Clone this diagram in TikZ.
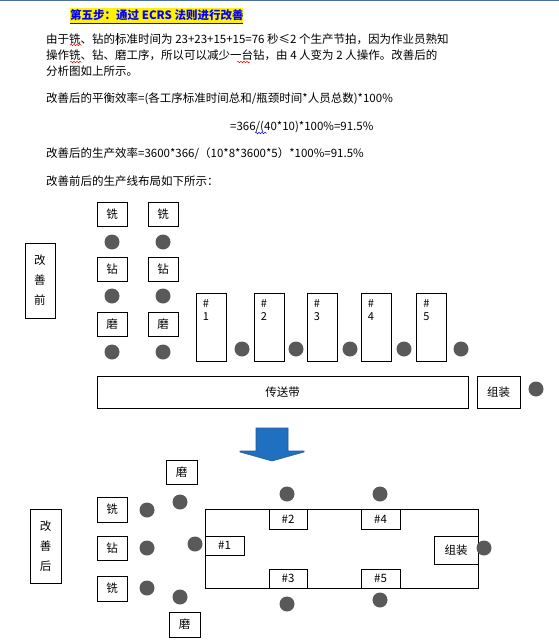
\documentclass[tikz,border=0pt]{standalone}
\usepackage{fontspec}
\setmainfont{Noto Sans CJK SC}
\usetikzlibrary{decorations.pathmorphing}
\definecolor{dotgray}{HTML}{595959}
\definecolor{arrowblue}{HTML}{1F70C1}
\definecolor{arrowedge}{HTML}{2A5C96}
\definecolor{topline}{HTML}{4A6FA5}
\tikzset{
  body/.style={anchor=west, inner sep=0pt, font=\fontsize{11.5}{14}\selectfont},
  bx/.style={draw, line width=0.8pt, inner sep=0pt, font=\fontsize{11.5}{14}\selectfont},
  vbox/.style={bx, align=center, font=\fontsize{11.5}{20}\selectfont},
  dot/.style={circle, fill=dotgray, inner sep=0pt, minimum size=15pt},
  wavy/.style={decorate, decoration={snake, amplitude=0.7pt, segment length=3pt}, line width=0.5pt},
  numlbl/.style={anchor=north west, align=left, inner sep=0pt, font=\fontsize{11}{13}\selectfont}
}
\begin{document}
\begin{tikzpicture}[x=1pt, y=-1pt]
\useasboundingbox (0,0) rectangle (559,643);
\draw[topline, line width=1pt] (0,0.5) -- (559,0.5);
% title
\fill[yellow] (70,8) rectangle (243,23.5);
\node[anchor=west, inner sep=0pt, text=blue, font=\fontsize{11.5}{14}\selectfont\bfseries] (title) at (70,15.5) {第五步：通过 ECRS 法则进行改善};
\draw[blue, line width=0.6pt] (70,23) -- (243,23);
% body
\node[body] (l1) at (46,39) {由于铣、钻的标准时间为 23+23+15+15=76 秒≤2 个生产节拍，因为作业员熟知};
\node[body] (l2) at (46,55) {操作铣、钻、磨工序，所以可以减少一台钻，由 4 人变为 2 人操作。改善后的};
\node[body] (l3) at (46,71) {分析图如上所示。};
\node[body] (f1) at (46,99) {改善后的平衡效率=(各工序标准时间总和/瓶颈时间*人员总数)*100\%};
\node[body] (f2) at (230,127) {=366/(40*10)*100\%=91.5\%};
\node[body] (f3) at (46,153.5) {改善后的生产效率=3600*366/（10*8*3600*5）*100\%=91.5\%};
\node[body] (f4) at (46,181.5) {改善前后的生产线布局如下所示：};
\draw[red, wavy] (70,45) -- (82,45);
\draw[red, wavy] (70,62) -- (82,62);
\draw[red, wavy] (237,62) -- (250,62);
\draw[blue, wavy] (255,133) -- (267,133);
\draw[line width=0.4pt] (117,33) -- (117,45);
% before
\node[vbox, minimum width=30pt, minimum height=75pt] (bq) at (40,280.5) {改\\善\\前};
\foreach \c/\x in {a/112, b/163}{
  \node[bx, minimum width=30pt, minimum height=24pt] (x\c) at (\x,214) {铣};
  \node[dot] (dx\c) at (\x,242) {};
  \node[bx, minimum width=30pt, minimum height=24pt] (z\c) at (\x,269) {钻};
  \node[dot] (dz\c) at (\x,296) {};
  \node[bx, minimum width=30pt, minimum height=24pt] (m\c) at (\x,324) {磨};
  \node[dot] (dm\c) at (\x,352) {};
}
\foreach \i/\x/\d in {1/211/242, 2/269/296, 3/322/350, 4/376/404, 5/431.5/461}{
  \node[bx, minimum width=30pt, minimum height=68pt] (s\i) at (\x,327) {};
  \node[numlbl] (sl\i) at ([xshift=7pt, yshift=-7pt]s\i.north west) {\#\\\i};
  \node[dot] (ds\i) at (\d,349) {};
}
\node[bx, minimum width=371pt, minimum height=32pt] (belt) at (282.5,392) {传送带};
\node[bx, minimum width=43pt, minimum height=32pt] (asm) at (498.5,392) {组装};
\node[dot] (dasm) at (536,389) {};
% arrow
\filldraw[fill=arrowblue, draw=arrowedge, line width=0.6pt]
  (256,428) -- (288,428) -- (288,451) -- (304,451) -- (304,452) -- (272,461)
  -- (240,452) -- (240,451) -- (256,451) -- cycle;
% after
\node[vbox, minimum width=31pt, minimum height=74pt] (aq) at (45.5,546) {改\\善\\后};
\node[bx, minimum width=31pt, minimum height=24pt] (am1) at (181.5,472) {磨};
\node[bx, minimum width=30pt, minimum height=25pt] (ax1) at (112,509.5) {铣};
\node[bx, minimum width=30pt, minimum height=24pt] (az) at (112,548) {钻};
\node[bx, minimum width=30pt, minimum height=25pt] (ax2) at (112,588.5) {铣};
\node[bx, minimum width=31pt, minimum height=25pt] (am2) at (184.5,624.5) {磨};
\node[dot] (ad1) at (180,502) {};
\node[dot] (ad2) at (147,510) {};
\node[dot] (ad3) at (147,548) {};
\node[dot] (ad4) at (195,544) {};
\node[dot] (ad5) at (147,588) {};
\node[dot] (ad6) at (180,597) {};
\node[bx, minimum width=273pt, minimum height=79pt] (line) at (341.5,548.5) {};
\node[bx, fill=white, minimum width=38pt, minimum height=20pt] (a2) at (288,519) {\#2};
\node[bx, fill=white, minimum width=39pt, minimum height=20pt] (a4) at (380.5,519) {\#4};
\node[bx, fill=white, minimum width=38pt, minimum height=19pt] (a3) at (288,578.5) {\#3};
\node[bx, fill=white, minimum width=39pt, minimum height=19pt] (a5) at (380.5,578.5) {\#5};
\node[bx, fill=white, minimum width=39pt, minimum height=19pt] (a1) at (224.5,545.5) {\#1};
\node[bx, fill=white, minimum width=44pt, minimum height=28pt] (aasm) at (456,550) {组装};
\node[dot] (ad7) at (484,548) {};
\node[dot] (ad8) at (287,494) {};
\node[dot] (ad9) at (380,494) {};
\node[dot] (ad10) at (287,604) {};
\node[dot] (ad11) at (380,600) {};
\end{tikzpicture}
\end{document}
